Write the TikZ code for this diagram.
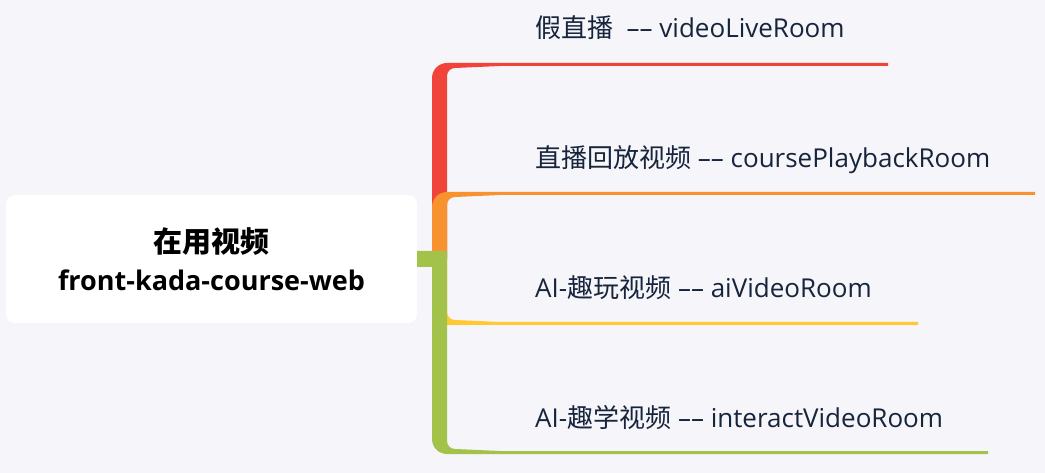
\documentclass[tikz,border=0pt]{standalone}
\usepackage{fontspec}
\usepackage{tikz}
\setmainfont{Open Sans}
\newfontfamily\cjk{Noto Sans CJK SC}
\definecolor{bgpaper}{RGB}{245,245,250}
\definecolor{branchred}{RGB}{240,67,58}
\definecolor{branchorange}{RGB}{248,146,46}
\definecolor{branchyellow}{RGB}{255,201,47}
\definecolor{branchgreen}{RGB}{162,194,74}
\definecolor{labelnavy}{RGB}{22,36,60}

\begin{document}
\begin{tikzpicture}[x=1pt, y=-1pt,
    leaf/.style={anchor=base west, inner sep=0pt, text=labelnavy,
      font=\fontsize{26}{28}\selectfont}]
      % Canvas
      \fill[bgpaper] (0,0) rectangle (1045,473);
      \useasboundingbox (0,0) rectangle (1045,473);
      % Root topic
      \node[fill=white, rounded corners=9pt, minimum width=411pt,
        minimum height=128pt, align=center, text=black,
        font=\fontsize{27}{38}\selectfont\bfseries] (root) at (211.5,259)
        {{\cjk\fontsize{29}{38}\selectfont 在用视频}\\front-kada-course-web};
      % Red branch (upwards)
      \fill[branchred] (432,259) -- (432,78) arc (180:270:15) -- (888,63)
        -- (888,66) -- (500,66) -- (455,68) arc (270:180:8) -- (447,259) -- cycle;
      % Orange branch (upwards)
      \fill[branchorange] (432,259) -- (432,207) arc (180:270:15) -- (1035,192)
        -- (1035,195) -- (500,195) -- (455,197) arc (270:180:8) -- (447,259) -- cycle;
      % Yellow branch (downwards)
      \fill[branchyellow] (432,259) -- (432,310) arc (180:90:15) -- (918,325)
        -- (918,322) -- (500,322) -- (455,320) arc (90:180:8) -- (447,259) -- cycle;
      % Green branch (downwards, with stub from root)
      \fill[branchgreen] (root.east |- 0,251) -- (447,251) -- (447,441) arc (180:90:8)
        -- (500,451) -- (988,451) -- (988,454) -- (447,454) arc (90:180:15)
        -- (432,267) -- (root.east |- 0,267) -- cycle;
      % Leaf labels
      \node[leaf] (live) at (535,38) {{\cjk 假直播}\ \ ––\ videoLiveRoom};
      \node[leaf] (playback) at (535,168) {{\cjk 直播回放视频}\ ––\ coursePlaybackRoom};
      \node[leaf] (aivideo) at (535,298) {AI-{\cjk 趣玩视频}\ ––\ aiVideoRoom};
      \node[leaf] (interact) at (535,427) {AI-{\cjk 趣学视频}\ ––\ interactVideoRoom};
    \end{tikzpicture}
\end{document}
